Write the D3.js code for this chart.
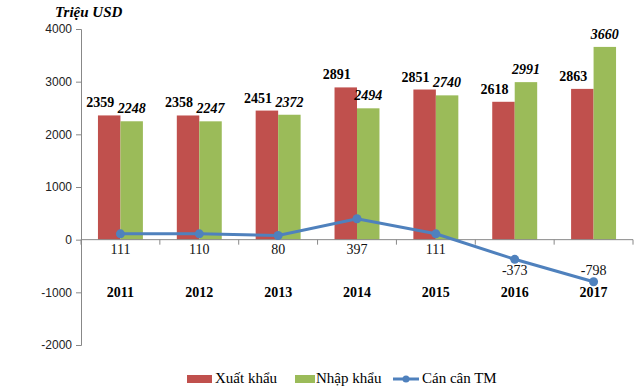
<!DOCTYPE html>
<html>
<head>
<meta charset="utf-8">
<script src="https://cdn.jsdelivr.net/npm/d3@7"></script>
<style>
body{margin:0;background:#fff;}
</style>
</head>
<body>
<div id="chart"></div>
<script>
var years = ["2011","2012","2013","2014","2015","2016","2017"];
var xuatKhau = [2359,2358,2451,2891,2851,2618,2863];
var nhapKhau = [2248,2247,2372,2494,2740,2991,3660];
var canCan = [111,110,80,397,111,-373,-798];
var yTicks = [-2000,-1000,0,1000,2000,3000,4000];

var SERIF = "Liberation Serif";
var SANS = "Liberation Sans";

var W = 640, H = 388;
var margin = {top:29,right:7,bottom:43,left:81};
var width = W - margin.left - margin.right;
var height = H - margin.top - margin.bottom;

var svg = d3.select("#chart").append("svg")
    .attr("width", W).attr("height", H)
  .append("g")
    .attr("transform","translate(" + margin.left + "," + margin.top + ")");

var x = d3.scaleBand().domain(years).range([0,width]).paddingInner(0.43).paddingOuter(0.215);
var xc = d3.scaleBand().domain(years).range([0,width]);
var y = d3.scaleLinear().domain([-2000,4000]).range([height,0]);
var bw = x.bandwidth()/2;

// y axis
var ya = svg.append("g").call(d3.axisLeft(y).tickValues(yTicks).tickSize(5).tickPadding(4)
    .tickFormat(function(d){return String(d);}));
ya.attr("font-family", SANS);
ya.selectAll("path,line").attr("stroke","#888");
ya.selectAll("text").attr("font-family",SANS).attr("font-size",12).attr("fill","#222");

// bars
svg.selectAll(".xk").data(years).enter().append("rect")
    .attr("x", function(d){return x(d);})
    .attr("y", function(d,i){return y(xuatKhau[i]);})
    .attr("width", bw)
    .attr("height", function(d,i){return y(0)-y(xuatKhau[i]);})
    .attr("fill","#C0504D");
svg.selectAll(".nk").data(years).enter().append("rect")
    .attr("x", function(d){return x(d)+bw;})
    .attr("y", function(d,i){return y(nhapKhau[i]);})
    .attr("width", bw)
    .attr("height", function(d,i){return y(0)-y(nhapKhau[i]);})
    .attr("fill","#9BBB59");

// x axis
var xa = svg.append("g").attr("transform","translate(0," + y(0) + ")");
xa.append("line").attr("x1",0).attr("x2",width).attr("stroke","#888");
xa.selectAll("line.t").data(years.concat(["end"])).enter().append("line")
    .attr("x1", function(d,i){return i*xc.step();})
    .attr("x2", function(d,i){return i*xc.step();})
    .attr("y1",0).attr("y2",5).attr("stroke","#888");

// year labels
svg.selectAll(".yr").data(years).enter().append("text")
    .attr("x", function(d){return xc(d)+xc.bandwidth()/2;})
    .attr("y", y(-1000)+5)
    .attr("text-anchor","middle")
    .attr("font-family",SERIF).attr("font-weight","bold").attr("font-size",14)
    .text(function(d){return d;});

// bar labels
svg.selectAll(".lxk").data(years).enter().append("text")
    .attr("x", function(d){return x(d)+bw/2-9;})
    .attr("y", function(d,i){return y(xuatKhau[i])-8;})
    .attr("text-anchor","middle")
    .attr("font-family",SERIF).attr("font-weight","bold").attr("font-size",14)
    .text(function(d,i){return xuatKhau[i];});
svg.selectAll(".lnk").data(years).enter().append("text")
    .attr("x", function(d){return x(d)+bw*1.5;})
    .attr("y", function(d,i){return y(nhapKhau[i])-8;})
    .attr("text-anchor","middle")
    .attr("font-family",SERIF).attr("font-weight","bold").attr("font-style","italic").attr("font-size",14)
    .text(function(d,i){return nhapKhau[i];});

// line
var cx = function(d,i){return xc(years[i])+xc.bandwidth()/2;};
var line = d3.line().x(cx).y(function(d){return y(d);});
svg.append("path").datum(canCan)
    .attr("d", line).attr("fill","none")
    .attr("stroke","#4F81BD").attr("stroke-width",3);
svg.selectAll(".pt").data(canCan).enter().append("circle")
    .attr("cx", cx).attr("cy", function(d){return y(d);})
    .attr("r",4.5).attr("fill","#4F81BD");
var mn = d3.min(canCan);
svg.selectAll(".lcc").data(canCan).enter().append("text")
    .attr("x", cx)
    .attr("y", function(d){
        if (d > 0) return y(0)+14;
        return d === mn ? y(d)-7 : y(d)+16;
    })
    .attr("text-anchor","middle")
    .attr("font-family",SERIF).attr("font-size",14).attr("fill","#111")
    .text(function(d){return d;});

// title
svg.append("text").attr("x",-26).attr("y",-12)
    .attr("font-family",SERIF).attr("font-weight","bold").attr("font-style","italic").attr("font-size",15)
    .text("Triệu USD");

// legend
var lg = svg.append("g").attr("transform","translate(0," + (height+37) + ")");
lg.append("rect").attr("x",106).attr("y",-7).attr("width",25).attr("height",8).attr("fill","#C0504D");
lg.append("text").attr("x",134).attr("y",1).attr("font-family",SERIF).attr("font-size",15).text("Xuất khẩu");
lg.append("rect").attr("x",214).attr("y",-7).attr("width",20).attr("height",8).attr("fill","#9BBB59");
lg.append("text").attr("x",235).attr("y",1).attr("font-family",SERIF).attr("font-size",15).text("Nhập khẩu");
lg.append("line").attr("x1",312).attr("x2",338).attr("y1",-3).attr("y2",-3).attr("stroke","#4F81BD").attr("stroke-width",3);
lg.append("circle").attr("cx",325).attr("cy",-3).attr("r",3.5).attr("fill","#4F81BD");
lg.append("text").attr("x",341).attr("y",1).attr("font-family",SERIF).attr("font-size",15).text("Cán cân TM");
</script>
</body>
</html>
